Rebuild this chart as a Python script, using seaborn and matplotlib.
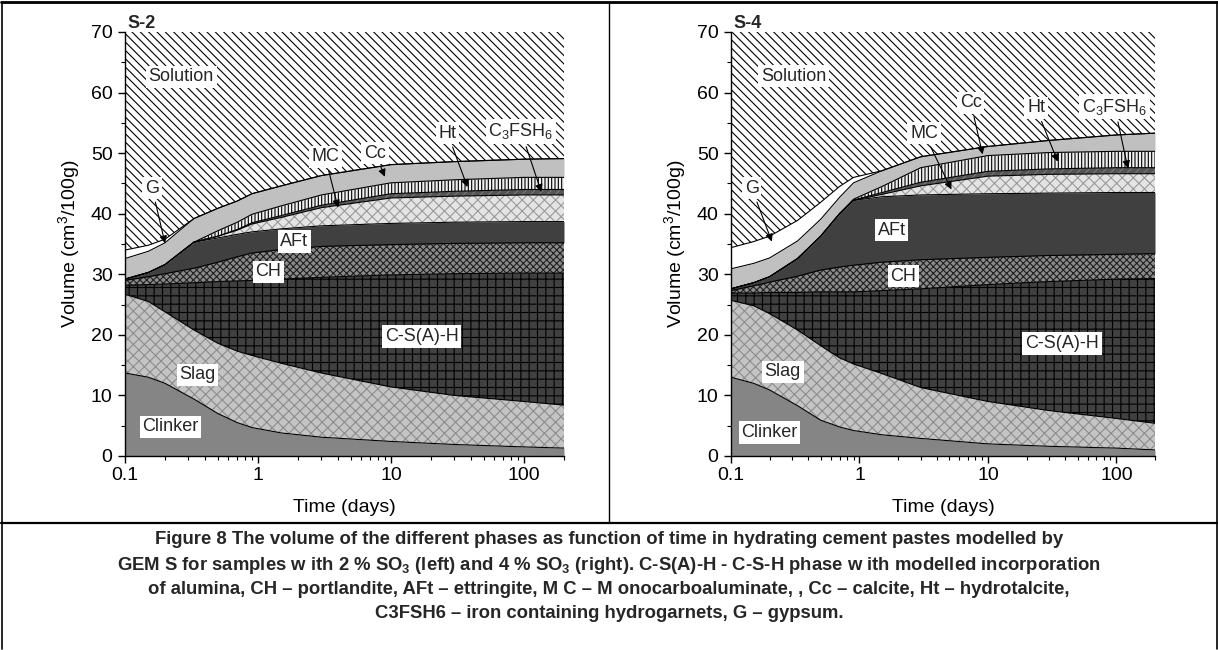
import numpy as np
import matplotlib
matplotlib.use("Agg")
import matplotlib.pyplot as plt
import seaborn as sns
from matplotlib.lines import Line2D
from matplotlib.ticker import MultipleLocator, FixedLocator, LogLocator, NullFormatter

# ---------------- data (cm3/100g per phase) ----------------
times = [0.1, 0.15, 0.2, 0.33, 0.5, 0.7, 0.9, 1.5, 3, 10, 30, 100, 200]

# S-2 (2 % SO3)
s2_clinker = [13.7, 13.0, 12.0, 9.4, 7.0, 5.5, 4.7, 3.8, 3.1, 2.4, 1.9, 1.5, 1.3]
s2_slag    = [13.0, 12.5, 11.8, 11.4, 11.6, 11.8, 11.9, 11.5, 10.6, 9.0, 8.1, 7.5, 7.1]
s2_csh     = [1.5, 2.8, 4.6, 7.8, 10.2, 11.6, 12.4, 13.9, 15.8, 18.5, 20.1, 21.2, 21.8]
s2_ch      = [0.8, 1.3, 1.7, 2.4, 3.2, 4.0, 4.5, 4.9, 5.1, 5.0, 5.0, 5.0, 5.0]
s2_aft     = [0.2, 0.7, 1.5, 4.3, 4.0, 3.7, 3.5, 3.4, 3.4, 3.5, 3.5, 3.5, 3.5]
s2_mc      = [0.0, 0.0, 0.0, 0.0, 0.3, 0.7, 1.3, 1.9, 3.0, 4.2, 4.3, 4.4, 4.4]
s2_c3fsh6  = [0.0, 0.0, 0.0, 0.0, 0.0, 0.1, 0.2, 0.3, 0.4, 0.7, 0.8, 0.9, 0.9]
s2_ht      = [0.0, 0.0, 0.0, 0.0, 0.9, 1.2, 1.4, 1.6, 1.7, 1.8, 1.9, 2.0, 2.0]
s2_cc      = [3.4, 3.5, 3.6, 3.9, 3.7, 3.5, 3.4, 3.3, 3.2, 3.0, 3.0, 3.0, 3.1]
s2_g       = [1.4, 1.0, 0.6, 0.0, 0.0, 0.0, 0.0, 0.0, 0.0, 0.0, 0.0, 0.0, 0.0]

# S-4 (4 % SO3)
s4_clinker = [13.0, 12.0, 10.9, 8.3, 5.9, 4.8, 4.2, 3.5, 2.9, 2.0, 1.6, 1.3, 1.0]
s4_slag    = [12.7, 12.8, 12.6, 12.5, 12.3, 11.4, 11.0, 10.1, 8.4, 7.0, 5.9, 4.9, 4.4]
s4_csh     = [1.2, 2.1, 3.5, 6.2, 8.9, 10.9, 11.9, 13.7, 16.3, 19.3, 21.3, 23.0, 23.9]
s4_ch      = [0.4, 1.2, 1.7, 2.7, 3.6, 4.1, 4.4, 4.7, 4.8, 4.5, 4.3, 4.1, 4.1]
s4_aft     = [0.3, 0.5, 0.9, 2.9, 5.6, 8.8, 10.7, 10.8, 10.7, 10.5, 10.3, 10.2, 10.1]
s4_mc      = [0.0, 0.0, 0.0, 0.0, 0.0, 0.0, 0.0, 0.4, 1.5, 2.9, 3.1, 3.1, 3.1]
s4_c3fsh6  = [0.0, 0.0, 0.0, 0.0, 0.0, 0.0, 0.05, 0.3, 0.6, 0.8, 0.9, 1.0, 1.0]
s4_ht      = [0.0, 0.0, 0.0, 0.0, 0.0, 0.0, 0.15, 1.0, 2.4, 2.6, 2.7, 2.7, 2.7]
s4_cc      = [3.3, 3.2, 3.1, 2.9, 2.8, 2.7, 2.7, 2.6, 1.8, 1.5, 2.0, 2.7, 3.0]
s4_g       = [3.5, 3.6, 3.6, 3.4, 2.8, 1.8, 0.9, 0.0, 0.0, 0.0, 0.0, 0.0, 0.0]

y_max = 70
y_ticks = [0, 10, 20, 30, 40, 50, 60, 70]
x_ticks = [0.1, 1, 10, 100]
x_tick_labels = ["0.1", "1", "10", "100"]

panel_titles = ["S-2", "S-4"]
phase_names = ["Clinker", "Slag", "C-S(A)-H", "CH", "AFt", "MC", "C3FSH6", "Ht", "Cc", "G"]

caption_lines = [
    "Figure 8 The volume of the different phases as function of time in hydrating cement pastes modelled by",
    "GEM S for samples w ith 2 % SO$_3$ (left) and 4 % SO$_3$ (right). C-S(A)-H - C-S-H phase w ith modelled incorporation",
    "of alumina, CH \u2013 portlandite, AFt \u2013 ettringite, M C \u2013 M onocarboaluminate, , Cc \u2013 calcite, Ht \u2013 hydrotalcite,",
    "C3FSH6 \u2013 iron containing hydrogarnets, G \u2013 gypsum.",
]

# ---------------- styles ----------------
# (facecolor, hatch, hatch colour)
styles = {
    "Clinker":  ("#858585", None, "#858585"),
    "Slag":     ("#c4c4c4", "xxx", "#8c8c8c"),
    "C-S(A)-H": ("#404040", "++", "#000000"),
    "CH":       ("#8a8a8a", "xxxxx", "#202020"),
    "AFt":      ("#404040", None, "#404040"),
    "MC":       ("#e4e4e4", "xxx", "#9a9a9a"),
    "C3FSH6":   ("#555555", "////", "#7a7a7a"),
    "Ht":       ("#f0f0f0", "|||||", "#000000"),
    "Cc":       ("#c0c0c0", None, "#c0c0c0"),
    "G":        ("#ffffff", None, "#ffffff"),
}

sns.set_theme(style="ticks")
plt.rcParams["font.family"] = ["Liberation Sans", "DejaVu Sans"]
plt.rcParams["mathtext.default"] = "regular"
plt.rcParams["hatch.linewidth"] = 0.8

fig = plt.figure(figsize=(12.18, 6.5), dpi=100)
ax_l = fig.add_axes([125 / 1218, 1 - 456 / 650, 439 / 1218, 424 / 650])
ax_r = fig.add_axes([731 / 1218, 1 - 456 / 650, 424 / 1218, 424 / 650])

panels = [
    (ax_l, [s2_clinker, s2_slag, s2_csh, s2_ch, s2_aft, s2_mc, s2_c3fsh6, s2_ht, s2_cc, s2_g]),
    (ax_r, [s4_clinker, s4_slag, s4_csh, s4_ch, s4_aft, s4_mc, s4_c3fsh6, s4_ht, s4_cc, s4_g]),
]

FS = 14

t = np.array(times)
for ax, layers in panels:
    ax.set_xscale("log")
    stack = np.cumsum(np.array(layers), axis=0)
    lower = np.zeros_like(t)
    for name, upper in zip(phase_names, stack):
        fc, hatch, hc = styles[name]
        ax.fill_between(t, lower, upper, facecolor=fc, hatch=hatch,
                        edgecolor=hc, linewidth=0, zorder=1)
        lower = upper
    # solution fills the rest up to the top of the axis
    ax.fill_between(t, stack[-1], np.full_like(t, y_max), facecolor="white",
                    hatch="\\\\\\\\", edgecolor="black", linewidth=0, zorder=1)
    for upper in stack:
        sns.lineplot(x=t, y=upper, color="black", linewidth=0.8, ax=ax, zorder=2)

    ax.set_xlim(0.1, 200)
    ax.set_ylim(0, y_max)
    ax.yaxis.set_major_locator(FixedLocator(y_ticks))
    ax.yaxis.set_minor_locator(MultipleLocator(5))
    ax.xaxis.set_major_locator(FixedLocator(x_ticks))
    ax.set_xticklabels(x_tick_labels)
    ax.xaxis.set_minor_locator(LogLocator(base=10, subs=np.arange(2, 10), numticks=20))
    ax.xaxis.set_minor_formatter(NullFormatter())
    ax.tick_params(axis="both", which="major", direction="out", length=5, width=1,
                   labelsize=FS, colors="black", pad=3)
    ax.tick_params(axis="y", which="major", pad=4)
    ax.tick_params(axis="both", which="minor", direction="out", length=3, width=0.8, colors="black")
    for side in ["top", "right"]:
        ax.spines[side].set_visible(False)
    for side in ["left", "bottom"]:
        ax.spines[side].set_color("black")
        ax.spines[side].set_linewidth(1.0)
        ax.spines[side].set_zorder(5)
    ax.set_xlabel("Time (days)", fontsize=FS, labelpad=11, color="black")
    ax.set_ylabel("Volume (cm$^3$/100g)", fontsize=FS, labelpad=6, color="black")

# ---------------- labels ----------------
box = dict(boxstyle="square,pad=0.15", facecolor="white", edgecolor="none")
arrow = dict(arrowstyle="-|>", color="black", lw=0.8, mutation_scale=11, shrinkA=2, shrinkB=0)
lab_fs = 13

def boxed(ax, x, y, s):
    ax.text(x, y, s, ha="center", va="center", fontsize=lab_fs, bbox=box, zorder=6)

def arrowed(ax, x, y, s, tx, ty):
    ax.annotate(s, xy=(tx, ty), xytext=(x, y), ha="center", va="center",
                fontsize=lab_fs, bbox=box, arrowprops=arrow, zorder=6)

# S-2
ax_l.text(0.005, 1.0, panel_titles[0], transform=ax_l.transAxes, ha="left", va="bottom",
          fontsize=13, fontweight="bold")
boxed(ax_l, 0.265, 62.6, "Solution")
arrowed(ax_l, 0.16, 44.2, "G", 0.2, 35.1)
arrowed(ax_l, 3.2, 49.4, "MC", 4.0, 41.0)
arrowed(ax_l, 7.6, 50.0, "Cc", 9.0, 46.1)
arrowed(ax_l, 26.6, 53.3, "Ht", 37.6, 44.4)
arrowed(ax_l, 95, 53.6, "C$_3$FSH$_6$", 135, 43.6)
boxed(ax_l, 1.88, 35.4, "AFt")
boxed(ax_l, 1.2, 30.4, "CH")
boxed(ax_l, 17, 19.7, "C-S(A)-H")
boxed(ax_l, 0.35, 13.4, "Slag")
boxed(ax_l, 0.22, 4.8, "Clinker")

# S-4
ax_r.text(0.005, 1.0, panel_titles[1], transform=ax_r.transAxes, ha="left", va="bottom",
          fontsize=13, fontweight="bold")
boxed(ax_r, 0.307, 62.7, "Solution")
arrowed(ax_r, 0.145, 44.2, "G", 0.208, 35.4)
arrowed(ax_r, 3.18, 53.3, "MC", 5.2, 44.0)
arrowed(ax_r, 7.36, 58.3, "Cc", 9.1, 49.8)
arrowed(ax_r, 23.7, 57.5, "Ht", 35, 48.6)
arrowed(ax_r, 97, 57.7, "C$_3$FSH$_6$", 123, 47.5)
boxed(ax_r, 1.78, 37.3, "AFt")
boxed(ax_r, 2.19, 29.7, "CH")
boxed(ax_r, 37.7, 18.6, "C-S(A)-H")
boxed(ax_r, 0.253, 13.9, "Slag")
boxed(ax_r, 0.2, 3.9, "Clinker")

# ---------------- table frame ----------------
W, H = 1218, 650
def fline(x0, y0, x1, y1, lw):
    fig.add_artist(Line2D([x0 / W, x1 / W], [1 - y0 / H, 1 - y1 / H], color="black", lw=lw))

fline(1, 2, 1217, 2, 2.0)        # top
fline(1.5, 2, 1.5, 649, 1.2)     # left
fline(1216.5, 2, 1216.5, 649, 1.2)  # right
fline(1, 523, 1217, 523, 1.6)    # divider under plots
fline(609, 2, 609, 523, 1.0)     # divider between plots

# ---------------- caption ----------------
cap_y = [540, 565, 589, 613]
for s, yy in zip(caption_lines, cap_y):
    fig.text(0.5, 1 - yy / H, s, ha="center", va="center", fontsize=13.3, fontweight="bold")

fig.savefig("out.png", dpi=100, facecolor="white")
